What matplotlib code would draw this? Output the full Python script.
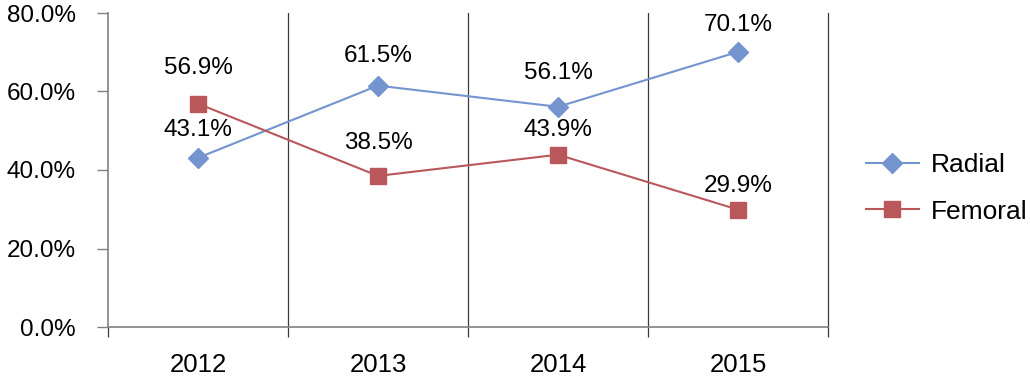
import numpy as np
import matplotlib
matplotlib.use('Agg')
import matplotlib.pyplot as plt
from matplotlib.ticker import FuncFormatter
from matplotlib import font_manager

plt.rcParams['font.family'] = ['Liberation Sans', 'DejaVu Sans']

years = ['2012', '2013', '2014', '2015']
radial = [43.1, 61.5, 56.1, 70.1]
femoral = [56.9, 38.5, 43.9, 29.9]

# label offsets above the points (points), as placed in the original
radial_off = [20, 21, 24, 19]
femoral_off = [26, 24, 18, 17]

blue = '#7394cf'
red = '#b9575b'
fs = 17.5

names = {f.name for f in font_manager.fontManager.ttflist}
xfont = 'Liberation Sans Narrow' if 'Liberation Sans Narrow' in names else 'Liberation Sans'
xfs = 21 if xfont == 'Liberation Sans Narrow' else 18.5

fig = plt.figure(figsize=(10.3, 3.79), dpi=100)
ax = fig.add_axes([108 / 1030, 52 / 379, 720 / 1030, 314 / 379])

x = np.arange(len(years))
ax.plot(x, radial, color=blue, lw=1.5, marker='D', ms=10, mec=blue, label='Radial', zorder=3)
ax.plot(x, femoral, color=red, lw=1.5, marker='s', ms=11, mec=red, label='Femoral', zorder=3)

for i in range(len(years)):
    ax.annotate('%.1f%%' % radial[i], (x[i], radial[i]), xytext=(0, radial_off[i]),
                textcoords='offset points', ha='center', va='center', fontsize=fs)
    ax.annotate('%.1f%%' % femoral[i], (x[i], femoral[i]), xytext=(0, femoral_off[i]),
                textcoords='offset points', ha='center', va='center', fontsize=fs)

for b in [0.5, 1.5, 2.5]:
    ax.axvline(b, color='#3a3a3a', lw=0.9, zorder=1)

ax.set_xlim(-0.5, 3.5)
ax.set_ylim(0, 80)
ax.set_yticks([0, 20, 40, 60, 80])
ax.yaxis.set_major_formatter(FuncFormatter(lambda v, p: '%.1f%%' % v))
ax.tick_params(axis='y', length=8, width=1, color='#808080', pad=15, labelsize=fs)

ax.set_xticks(np.arange(-0.5, 4, 1))
ax.set_xticklabels([])
ax.set_xticks(x, minor=True)
ax.set_xticklabels(years, minor=True, fontfamily=xfont)
ax.tick_params(axis='x', which='major', length=7, width=0.9, color='#3a3a3a')
ax.tick_params(axis='x', which='minor', length=0, pad=19, labelsize=xfs)

ax.spines['top'].set_visible(False)
ax.spines['left'].set_color('#808080')
ax.spines['left'].set_linewidth(1.2)
ax.spines['bottom'].set_color('#808080')
ax.spines['bottom'].set_linewidth(1.2)
ax.spines['right'].set_color('#3a3a3a')
ax.spines['right'].set_linewidth(0.9)

ax.legend(loc='center left', bbox_to_anchor=(866 / 1030, (379 - 188.5) / 379),
          bbox_transform=fig.transFigure, frameon=False, fontsize=19,
          handlelength=2.0, handletextpad=0.45, labelspacing=0.85, borderpad=0, borderaxespad=0)

fig.savefig('out.png', dpi=100)
